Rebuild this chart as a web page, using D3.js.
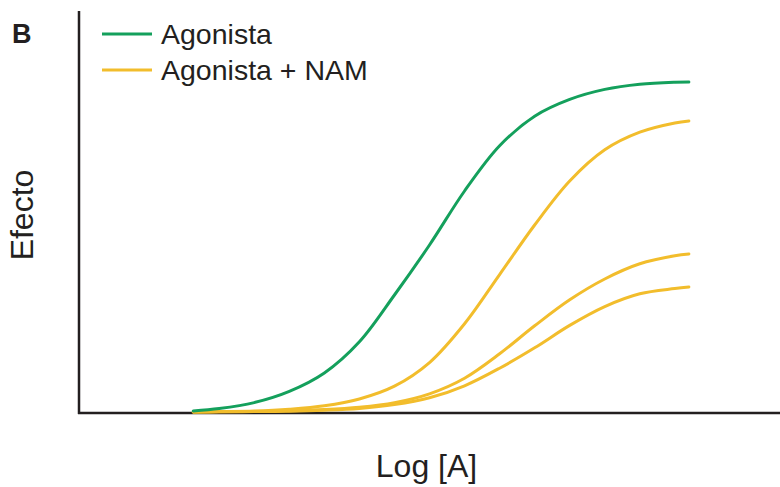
<!DOCTYPE html>
<meta charset="utf-8">
<title>Agonista + NAM</title>
<style>
body {
  margin: 0;
  background: #fff;
}
svg text {
  font-family: "Liberation Sans", Arial, sans-serif;
  fill: #231f20;
}
.axis-line {
  stroke: #231f20;
  stroke-width: 2.5px;
  fill: none;
}
.curve {
  fill: none;
  stroke-width: 3px;
  stroke-linecap: round;
}
</style>
<svg id="chart" width="780" height="487"></svg>
<script src="https://d3js.org/d3.v7.min.js"></script>
<script>
// log [A] positions shared by all curves
let logA = [1.63, 2, 2.5, 3, 3.5, 4, 4.5, 5, 5.5, 6, 6.5, 7, 7.5, 8, 8.5, 8.7];

// effect values
let agonista = [0.5, 1.1, 2.6, 5.4, 10, 17.8, 29.5, 42, 55.5, 66.8, 74.2, 78.4, 80.9, 82.2, 82.7, 82.75];
let nam1 = [0.25, 0.35, 0.5, 0.95, 1.8, 3.5, 6.7, 12.6, 22.3, 34.6, 47, 58, 65.8, 70.2, 72.5, 73];
let nam2 = [0.25, 0.3, 0.4, 0.55, 0.85, 1.45, 2.6, 4.8, 8.7, 14.8, 21.8, 28.3, 33.5, 37.3, 39.3, 39.75];
let nam3 = [0.25, 0.3, 0.35, 0.45, 0.7, 1.15, 2.1, 3.8, 6.8, 11.2, 16.3, 21.9, 26.6, 29.8, 31.1, 31.5];

let legendLabels = ["Agonista", "Agonista + NAM"];
let panelLabel = "B";
let xLabel = "Log [A]";
let yLabel = "Efecto";

let green = "#14a05c",
    yellow = "#f2bd2c";

let series = [
  { name: "agonista", values: agonista, color: green },
  { name: "nam1", values: nam1, color: yellow },
  { name: "nam2", values: nam2, color: yellow },
  { name: "nam3", values: nam3, color: yellow }
];

let svg = d3.select("svg#chart"),
    margin = {top: 11, right: 0, bottom: 74, left: 79},
    width = 780 - margin.left - margin.right,
    height = 487 - margin.top - margin.bottom,
    g = svg.append("g").attr("transform", "translate(" + margin.left + "," + margin.top + ")");

let x = d3.scaleLinear().domain([0, 10]).range([0, width]),
    y = d3.scaleLinear().domain([0, 100]).range([height, 2]);

let line = d3.line()
    .curve(d3.curveCatmullRom.alpha(0.5))
    .x((d, i) => x(logA[i]))
    .y(d => y(d));

// axes: plain lines, no ticks
g.append("line")
    .attr("class", "axis-line")
    .attr("x1", 0).attr("x2", 0)
    .attr("y1", 0).attr("y2", height + 1);
g.append("line")
    .attr("class", "axis-line")
    .attr("x1", -1).attr("x2", width)
    .attr("y1", height).attr("y2", height);

g.selectAll(".curve")
  .data(series.slice().reverse())
  .enter().append("path")
    .attr("class", "curve")
    .attr("d", s => line(s.values))
    .style("stroke", s => s.color);

// axis titles
svg.append("text")
    .attr("x", margin.left + width / 2 - 3)
    .attr("y", 477)
    .attr("text-anchor", "middle")
    .style("font-size", "32px")
    .text(xLabel);

svg.append("text")
    .attr("transform", "translate(33," + 215 + ") rotate(-90)")
    .attr("text-anchor", "middle")
    .style("font-size", "32px")
    .text(yLabel);

svg.append("text")
    .attr("x", 12)
    .attr("y", 43)
    .style("font-size", "27px")
    .style("font-weight", "bold")
    .text(panelLabel);

// legend
let legend = svg.append("g").attr("transform", "translate(102,0)");
let items = legend.selectAll(".item")
  .data(legendLabels)
  .enter().append("g")
    .attr("class", "item")
    .attr("transform", (d, i) => "translate(0," + (34 + i * 36) + ")");

items.append("line")
    .attr("x1", 0).attr("x2", 50)
    .attr("y1", 0).attr("y2", 0)
    .style("stroke", (d, i) => i === 0 ? green : yellow)
    .style("stroke-width", "3px");

items.append("text")
    .attr("x", 59)
    .attr("y", 10)
    .style("font-size", "28.5px")
    .text(d => d);
</script>
